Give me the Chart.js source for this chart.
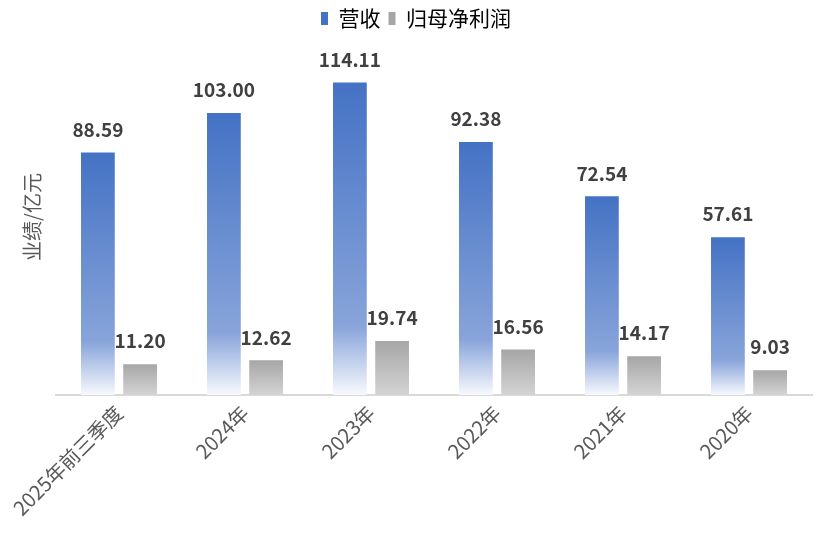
<!DOCTYPE html>
<html>
<head>
<meta charset="utf-8">
<script src="https://cdn.jsdelivr.net/npm/chart.js@4/dist/chart.umd.min.js"></script>
<style>
  html, body { margin: 0; padding: 0; background: #fff; }
  #wrap { width: 820px; height: 542px; }
</style>
</head>
<body>
<div id="wrap"><canvas id="chart"></canvas></div>
<script>
var categories = ["2025年前三季度", "2024年", "2023年", "2022年", "2021年", "2020年"];
var revenue = [88.59, 103.00, 114.11, 92.38, 72.54, 57.61];
var netProfit = [11.20, 12.62, 19.74, 16.56, 14.17, 9.03];
var seriesNames = ["营收", "归母净利润"];

var FONT = "'Noto Sans CJK SC', 'Microsoft YaHei', sans-serif";

// vertical gradient per bar, dark at the top, faded at the base
function barGradient(stops, fallback) {
  return function (ctx) {
    var chart = ctx.chart;
    if (!chart.chartArea || ctx.type !== 'data') return fallback;
    var y = chart.scales.y;
    var top = y.getPixelForValue(ctx.raw);
    var base = y.getPixelForValue(0);
    if (!isFinite(top) || top === base) return fallback;
    var g = chart.ctx.createLinearGradient(0, top, 0, base);
    stops.forEach(function (s) { g.addColorStop(s[0], s[1]); });
    return g;
  };
}

var valueLabels = {
  id: 'valueLabels',
  afterDatasetsDraw: function (chart) {
    var c = chart.ctx;
    c.save();
    c.font = "bold 19px " + FONT;
    c.fillStyle = "#404040";
    c.textAlign = "center";
    c.textBaseline = "middle";
    chart.data.datasets.forEach(function (ds, i) {
      chart.getDatasetMeta(i).data.forEach(function (bar, j) {
        c.fillText(ds.data[j].toFixed(2), bar.x, bar.y - 23);
      });
    });
    c.restore();
  }
};

new Chart(document.getElementById("chart"), {
  type: 'bar',
  data: {
    labels: categories,
    datasets: [
      {
        label: seriesNames[0],
        data: revenue,
        backgroundColor: barGradient([[0, "#4472C4"], [0.78, "#88a4da"], [1, "#f7f9fd"]], "#4472C4"),
        barPercentage: 0.8,
        categoryPercentage: 0.67
      },
      {
        label: seriesNames[1],
        data: netProfit,
        backgroundColor: barGradient([[0, "#a6a6a6"], [1, "#d4d4d4"]], "#a6a6a6"),
        barPercentage: 0.8,
        categoryPercentage: 0.67
      }
    ]
  },
  options: {
    responsive: true,
    maintainAspectRatio: false,
    animation: false,
    layout: { padding: { top: 0, left: 20, right: 8, bottom: 16 } },
    plugins: {
      legend: {
        position: 'top',
        labels: {
          boxWidth: 7,
          boxHeight: 13,
          padding: 8,
          color: "#595959",
          font: { family: FONT, size: 21 },
          generateLabels: function (chart) {
            var fills = ["#4472C4", "#a6a6a6"];
            return chart.data.datasets.map(function (ds, i) {
              return { text: ds.label, fillStyle: fills[i], strokeStyle: fills[i], lineWidth: 0, datasetIndex: i };
            });
          }
        }
      },
      tooltip: { enabled: false }
    },
    scales: {
      x: {
        grid: { display: false, drawTicks: false },
        border: { display: true, color: "#d9d9d9", width: 2 },
        ticks: {
          color: "#595959",
          font: { family: FONT, size: 20 },
          minRotation: 45,
          maxRotation: 45,
          padding: 6
        }
      },
      y: {
        min: 0,
        max: 130,
        grid: { display: false },
        border: { display: false },
        ticks: { display: false },
        title: {
          display: true,
          text: "业绩/亿元",
          color: "#595959",
          font: { family: FONT, size: 20 },
          padding: { top: 0, bottom: 4 }
        }
      }
    }
  },
  plugins: [valueLabels]
});
</script>
</body>
</html>
